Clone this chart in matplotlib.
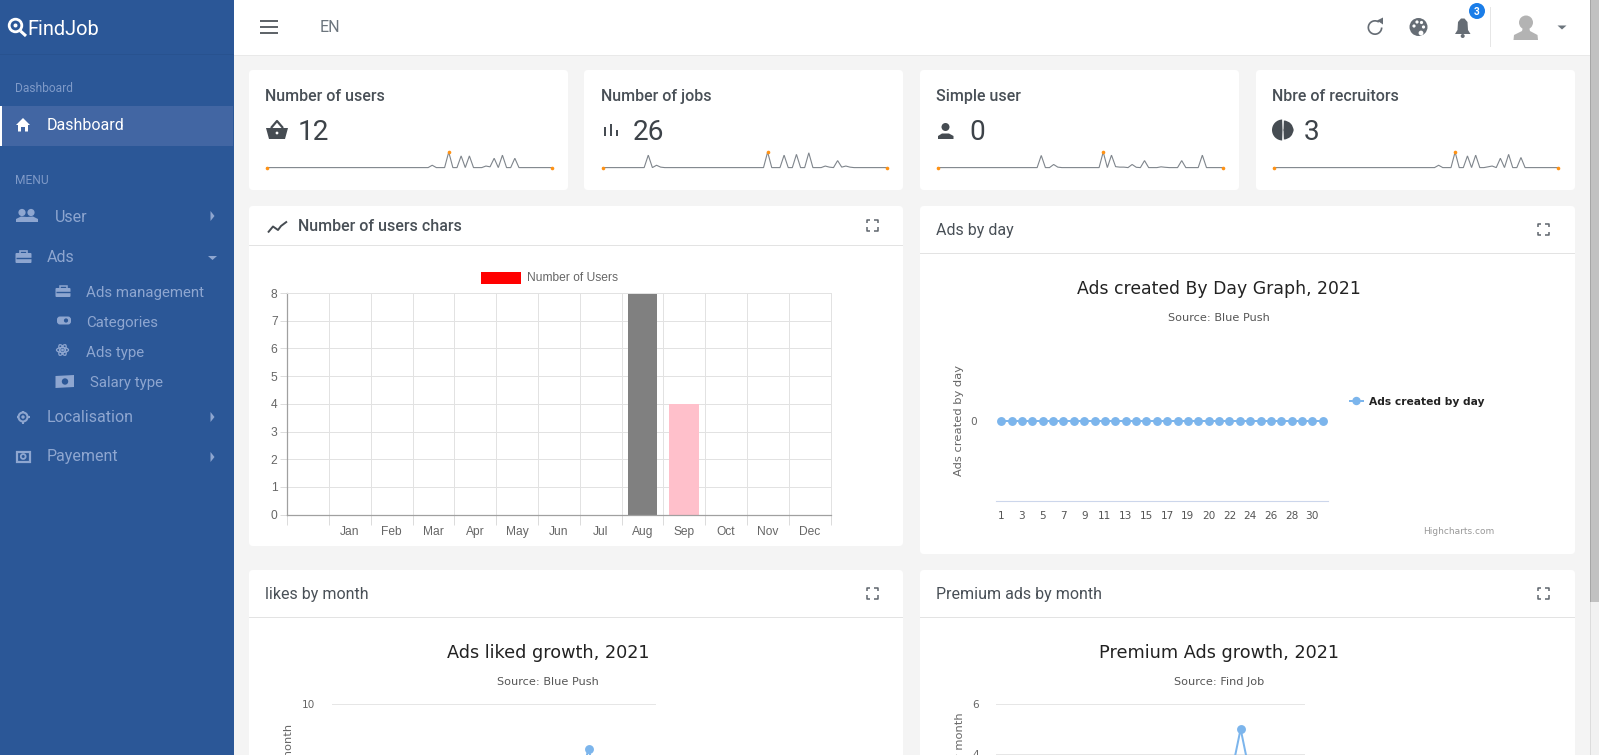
import matplotlib
matplotlib.use("Agg")
import matplotlib.pyplot as plt
from matplotlib.patches import Rectangle, FancyBboxPatch, Circle, Polygon, Wedge, Ellipse
from matplotlib.ticker import FixedLocator, NullFormatter

W, H = 1599, 755

# ---------- data ----------
month_labels = ['', 'Jan', 'Feb', 'Mar', 'Apr', 'May', 'Jun', 'Jul', 'Aug', 'Sep', 'Oct', 'Nov', 'Dec']
users_counts = [0, 0, 0, 0, 0, 0, 0, 0, 8, 4, 0, 0, 0]
users_colors = ['red'] * 8 + ['#808080', '#ffc0cb'] + ['red'] * 3

day_labels = ['1', '2', '3', '4', '5', '6', '7', '8', '9', '10', '11', '12', '13', '14', '15', '16',
              '17', '18', '19', '19', '20', '21', '22', '23', '24', '25', '26', '27', '28', '29', '30', '31']
ads_by_day = [0] * 32

liked_by_month = [0, 0, 0, 0, 0, 0, 0, 0, 0, 7, 0, 0]
premium_by_month = [0, 0, 0, 0, 0, 0, 0, 0, 0, 5, 0, 0]

spark_users = [0] * 40 + [1.5, 0, 0, 0, 10, 0, 0, 7.5, 0, 7.5, 0, 0, 0, 1, 0.5, 6, 0, 8, 0, 0, 6] + [0] * 9
spark_jobs = [0] * 11 + [8, 0, 1.5, 0.3] + [0] * 25 + [10, 0, 0, 0, 8, 0, 0, 8.5, 0, 0, 9.5, 0, 0, 0, 1, 0.3, 0, 4.5, 0.3, 1, 0.3] + [0] * 9
spark_simple = [0] * 25 + [7.8, 0, 0, 2, 0.3] + [0] * 10 + [10, 0, 8, 0.6, 0.3, 0.3, 0, 2, 0.2, 0, 4.5, 0, 0, 0, 0.5, 0.2, 0, 0, 0, 4.5, 0, 0, 0, 0, 8] + [0] * 5
spark_recruit = [0] * 40 + [1.5, 0, 0, 0, 10, 0, 0, 7.5, 0, 8, 0, 0, 0.5, 1, 0, 6, 0, 8.5, 0, 0, 6.5] + [0] * 9

card_titles = ['Number of users', 'Number of jobs', 'Simple user', 'Nbre of recruitors']
card_values = ['12', '26', '0', '3']

# ---------- helpers ----------
fig = plt.figure(figsize=(W / 100, H / 100), dpi=100, facecolor='#f4f4f4')
ov = fig.add_axes([0, 0, 1, 1], zorder=0)
ov.set_xlim(0, W)
ov.set_ylim(H, 0)
ov.axis('off')


def px_axes(x0, y0, x1, y1, zorder=2):
    ax = fig.add_axes([x0 / W, 1 - y1 / H, (x1 - x0) / W, (y1 - y0) / H], zorder=zorder)
    ax.patch.set_alpha(0)
    return ax


def T(x, y, s, size, color='#495057', ha='left', va='center_baseline', family='Roboto', **kw):
    return ov.text(x, y, s, fontsize=size * 0.72, color=color, ha=ha, va=va, family=family, **kw)


def R(x0, y0, x1, y1, color, z=1, **kw):
    ov.add_patch(Rectangle((x0, y0), x1 - x0, y1 - y0, fc=color, ec='none', zorder=z, **kw))


def card(x0, y0, x1, y1):
    for d, a in ((3, .015), (2, .02), (1, .03)):
        ov.add_patch(FancyBboxPatch((x0 - d + 4, y0 - d + 5), x1 - x0 + 2 * d - 8, y1 - y0 + 2 * d - 8,
                                    boxstyle='round,pad=0,rounding_size=4', mutation_aspect=1,
                                    fc='black', ec='none', alpha=a, zorder=1))
    ov.add_patch(FancyBboxPatch((x0 + 4, y0 + 4), x1 - x0 - 8, y1 - y0 - 8,
                                boxstyle='round,pad=4,rounding_size=4', fc='white', ec='none', zorder=1.2))


def L(xs, ys, color, lw=1.0, z=3, **kw):
    ov.plot(xs, ys, color=color, lw=lw, zorder=z, solid_capstyle=kw.pop('cap', 'butt'), **kw)


def P(pts, color, z=3):
    ov.add_patch(Polygon(pts, closed=True, fc=color, ec='none', zorder=z))


def C(x, y, r, color, z=3):
    ov.add_patch(Circle((x, y), r, fc=color, ec='none', zorder=z))


def expand_icon(cx, cy, c='#5f666d'):
    r, a = 5.5, 3.2
    for sx in (-1, 1):
        for sy in (-1, 1):
            L([cx + sx * (r - a), cx + sx * r, cx + sx * r], [cy + sy * r, cy + sy * r, cy + sy * (r - a)], c, lw=1.1)


# ---------- sidebar ----------
SB = '#2b5797'
MUTED = '#8ea6d0'
R(0, 0, 234, H, SB)
R(0, 54, 234, 55, '#28528f', z=1.1)
R(0, 106, 233, 146, '#4266a3', z=1.1)
R(0, 106, 2, 146, 'white', z=1.2)

ov.add_patch(Circle((15.5, 25.5), 6.3, fc='none', ec='white', lw=2.0, zorder=3))
C(15.5, 25.5, 2.0, 'white')
L([20.5, 26], [31, 36], 'white', lw=2.2)
T(27.5, 27.5, 'FindJob', 20, 'white')

T(15.5, 87.5, 'Dashboard', 12, '#7f9ac8')
P([(16, 125), (23, 118), (30, 125), (28, 125), (28, 131.5), (25, 131.5), (25, 127), (21, 127), (21, 131.5), (18, 131.5), (18, 125)], 'white')
T(47, 124.5, 'Dashboard', 16, 'white')
T(15.5, 179, 'MENU', 12, '#7f9ac8')

# user icon
C(22, 212.5, 3.6, MUTED); C(31, 212.5, 3.6, MUTED)
P([(16, 222), (16, 219), (21, 216.5), (27, 217), (33, 216.5), (38, 219), (38, 222)], MUTED)
T(55, 216.5, 'User', 16, MUTED)
P([(210.5, 211), (214.5, 216), (210.5, 221)], MUTED)
# ads icon
ov.add_patch(FancyBboxPatch((15.5, 253), 16, 10, boxstyle='round,pad=0,rounding_size=1', fc=MUTED, ec='none', zorder=3))
ov.add_patch(Rectangle((20, 250.5), 7, 3, fc='none', ec=MUTED, lw=1.2, zorder=3))
L([15.5, 31.5], [257.5, 257.5], SB, lw=1)
T(47, 256.5, 'Ads', 16, MUTED)
P([(208, 256), (217, 256), (212.5, 260)], MUTED)

# sub menu icons
ov.add_patch(FancyBboxPatch((55.5, 288), 15, 9, boxstyle='round,pad=0,rounding_size=1', fc=MUTED, ec='none', zorder=3))
ov.add_patch(Rectangle((59.5, 285.5), 7, 3, fc='none', ec=MUTED, lw=1.1, zorder=3))
L([55.5, 70.5], [292, 292], SB, lw=1)
T(86, 292, 'Ads management', 15, MUTED)
ov.add_patch(FancyBboxPatch((59, 318.5), 10, 4, boxstyle='round,pad=2,rounding_size=3', fc=MUTED, ec='none', zorder=3))
C(66, 320.5, 2.1, SB, z=3.2)
T(86, 322, 'Categories', 15, MUTED)
for ang in (0, 60, 120):
    ov.add_patch(Ellipse((62.5, 350), 12, 5, angle=ang, fc='none', ec=MUTED, lw=.9, zorder=3))
C(62.5, 350, 1.4, MUTED)
T(86, 352, 'Ads type', 15, MUTED)
P([(55.5, 376), (74, 375), (74, 387), (55.5, 388)], MUTED)
C(65, 381.5, 3.2, SB, z=3.2)
T(90, 382, 'Salary type', 15, MUTED)
# localisation icon
ov.add_patch(Circle((23, 417), 4.5, fc='none', ec=MUTED, lw=1.5, zorder=3))
C(23, 417, 1.7, MUTED)
for a, b, c_, d in ((16.5, 18.5, 417, 417), (27.5, 29.5, 417, 417), (23, 23, 410.5, 412.5), (23, 23, 421.5, 423.5)):
    L([a, b], [c_, d], MUTED, lw=1.5)
T(47, 416.5, 'Localisation', 16, MUTED)
P([(210.5, 412), (214.5, 417), (210.5, 422)], MUTED)
ov.add_patch(Rectangle((17, 451.5), 12.5, 10, fc='none', ec=MUTED, lw=1.6, zorder=3))
ov.add_patch(Circle((23.2, 456.5), 2.4, fc='none', ec=MUTED, lw=1.3, zorder=3))
T(47, 455.5, 'Payement', 16, MUTED)
P([(210.5, 452), (214.5, 457), (210.5, 462)], MUTED)

# ---------- top bar ----------
R(234, 0, 1590, 55, 'white', z=1.5)
R(234, 55, 1590, 56, '#e9e9e9', z=1.4)
for yy in (21.3, 27, 32.5):
    L([260, 278], [yy, yy], '#5c6166', lw=1.4)
T(320, 26.5, 'EN', 16, '#6c757d')
GR = '#666d75'
ov.add_patch(Wedge((1375, 27.5), 7.5, 0, 305, width=1.7, fc=GR, ec='none', zorder=3))
P([(1377, 20.5), (1383, 17.5), (1383, 24.5)], GR)
C(1418.5, 27, 9, GR)
for dx, dy in ((-4.5, -1), (-1.5, -5), (3, -4.5), (5, 0)):
    C(1418.5 + dx, 27 + dy, 1.6, 'white', z=3.2)
C(1421, 33, 2.4, 'white', z=3.2)
P([(1455, 34), (1457.5, 30), (1458, 22), (1461, 18.5), (1464.5, 18.5), (1467.5, 22), (1468, 30), (1470.5, 34)], GR)
C(1462.7, 36, 2, GR)
C(1477, 11, 8, '#1a7de8', z=3.5)
T(1477, 11.3, '3', 10, 'white', ha='center', weight='bold', zorder=3.6)
R(1490.4, 7, 1491.4, 47, '#e6e6e6', z=2)
C(1526, 22.5, 7, '#b3b3b3')
P([(1523, 27), (1529, 27), (1530, 31), (1537.5, 35), (1538, 40), (1513.5, 40), (1514, 35), (1522, 31)], '#b3b3b3')
P([(1557.5, 25.5), (1566.5, 25.5), (1562, 29.5)], '#6c757d')

# scrollbar
R(1590, 0, 1599, H, '#f1f1f1', z=2)
R(1590, 0, 1591, H, '#dcdcdc', z=2.1)
R(1591, 0, 1599, 602, '#c1c1c1', z=2.2)
R(1590, 0, 1591, 602, '#a6a6a6', z=2.2)

# ---------- stat cards ----------
card_boxes = [(249, 568), (584, 903), (920, 1239), (1256, 1575)]
text_x = [265, 601, 936, 1272]
val_x = [298, 633, 969, 1304]
spark_x = [(267, 552), (603, 887), (938, 1223), (1274, 1558)]
sparks = [spark_users, spark_jobs, spark_simple, spark_recruit]

for (x0, x1), tx, vx, title, val, (sx0, sx1), spark in zip(card_boxes, text_x, val_x, card_titles, card_values, spark_x, sparks):
    card(x0, 70, x1, 190)
    T(tx, 101, title, 16, '#495057', va='baseline', weight='medium')
    T(vx, 129, val, 28, '#3d4349')
    sa = px_axes(sx0, 150, sx1, 169)
    sa.axis('off')
    sa.set_xlim(0, len(spark) - 1)
    sa.set_ylim(-0.9, 11.3)
    sa.plot(range(len(spark)), spark, color='#7f858c', lw=0.8, solid_joinstyle='miter', clip_on=False)
    mx = max(range(len(spark)), key=lambda i: spark[i])
    sa.plot([0, mx, len(spark) - 1], [spark[0], spark[mx], spark[-1]], ls='none', marker='o', ms=2.6,
            color='#ff9214', mec='none', clip_on=False, zorder=4)

D = '#464c52'
# basket
P([(266, 128), (288, 128), (285, 139), (269, 139)], D)
L([271, 277, 283], [128, 121, 128], D, lw=1.6)
C(277, 133, 1.4, 'white', z=3.2)
# bars
for x_, top in ((603.5, 127), (609.5, 124), (615.5, 130)):
    R(x_, top, x_ + 2.8, 136, D, z=3)
# person
C(945.5, 127, 4, D)
P([(938, 139), (938, 136), (942, 133.5), (949, 133.5), (953.5, 136), (953.5, 139)], D)
# pie
ov.add_patch(Wedge((1282.5, 130), 10.5, 92, 268, fc=D, ec='none', zorder=3))
ov.add_patch(Wedge((1283.5, 129.5), 10, 0, 88, fc=D, ec='none', zorder=3))
ov.add_patch(Wedge((1283.5, 130.5), 10, 272, 360, fc=D, ec='none', zorder=3))

# ---------- chart cards ----------
card(249, 206, 903, 546)
card(920, 206, 1575, 554)
card(249, 570, 903, 800)
card(920, 570, 1575, 800)
LN = '#e3e3e3'
R(249, 245, 903, 246, LN, z=1.3)
R(920, 253, 1575, 254, LN, z=1.3)
R(249, 617, 903, 618, LN, z=1.3)
R(920, 617, 1575, 618, LN, z=1.3)

L([268, 273, 278, 281, 287], [232.5, 226.5, 230, 226, 221.5], D, lw=1.4)
T(297.5, 231, 'Number of users chars', 16, '#495057', va='baseline', weight='medium')
T(936, 235, 'Ads by day', 16, va='baseline')
T(265, 599, 'likes by month', 16, va='baseline')
T(936, 599, 'Premium ads by month', 16, va='baseline')
expand_icon(872, 225)
expand_icon(1543, 229.5)
expand_icon(872, 593)
expand_icon(1543, 593)

# ---------- bar chart ----------
ax = px_axes(287.3, 293, 830.5, 514.7)
n = len(month_labels)
ax.bar(range(n), users_counts, width=0.71, color=users_colors, zorder=2)
ax.set_xlim(-0.5, n - 0.5)
ax.set_ylim(0, 8)
ax.xaxis.set_major_locator(FixedLocator([i - 0.5 for i in range(n + 1)]))
ax.xaxis.set_major_formatter(NullFormatter())
ax.xaxis.set_minor_locator(FixedLocator(range(n)))
ax.set_xticklabels(month_labels, minor=True, fontsize=12 * .72, family='Liberation Sans', color='#666666')
ax.tick_params(axis='x', which='major', length=7.2, width=.72, color='#dcdcdc')
ax.tick_params(axis='x', which='minor', length=0, pad=8)
ax.set_yticks(range(9))
ax.tick_params(axis='y', length=5, width=.72, color='#dcdcdc', labelsize=12 * .72, labelcolor='#666666', pad=2)
for lab in ax.get_yticklabels():
    lab.set_family('Liberation Sans')
ax.grid(True, which='major', color='#e2e2e2', lw=.72, zorder=0)
ax.set_axisbelow(True)
for s in ('top', 'right'):
    ax.spines[s].set_color('#e2e2e2')
    ax.spines[s].set_linewidth(.72)
for s in ('left', 'bottom'):
    ax.spines[s].set_color('#a0a0a0')
    ax.spines[s].set_linewidth(.9)
R(480.5, 272, 521, 284, 'red', z=3)
T(527, 276.5, 'Number of Users', 12, '#666666', family='Liberation Sans')

# ---------- highcharts style ----------
HC = '#7cb5ec'
HF = 'DejaVu Sans'
T(1219, 287.5, 'Ads created By Day Graph, 2021', 17.2, '#222222', ha='center', family=HF)
T(1219, 317, 'Source: Blue Push', 11.3, '#555555', ha='center', family=HF)

ax = px_axes(996, 341.3, 1328, 500.7)
ax.plot(range(len(ads_by_day)), ads_by_day, color=HC, lw=1.44, marker='o', ms=6.4, mec='none')
ax.set_xlim(-0.5, len(ads_by_day) - 0.5)
ax.set_ylim(-1, 1)
ax.set_yticks([0])
ax.set_xticks(range(0, len(day_labels), 2))
ax.set_xticklabels(day_labels[::2], fontsize=10.5 * .72, family=HF, color='#555555')
ax.tick_params(axis='x', length=0, pad=7.7)
ax.tick_params(axis='y', length=0, labelsize=10.5 * .72, labelcolor='#666666', pad=14)
for lab in ax.get_yticklabels():
    lab.set_family(HF)
for s in ('top', 'left', 'right'):
    ax.spines[s].set_visible(False)
ax.spines['bottom'].set_color('#ccd6eb')
T(958.5, 421, 'Ads created by day', 11.5, '#666666', ha='center', va='center', family=HF, rotation=90)
L([1349, 1364], [401, 401], HC, lw=1.44)
C(1356.5, 401, 4.2, HC)
T(1369, 401, 'Ads created by day', 10.6, '#222222', family=HF, weight='bold')
T(1494, 530.5, 'Highcharts.com', 9, '#999999', ha='right', family=HF)


def month_chart(x0, x1, values, y_range, shown_ticks, title, source, tcx, ylab, ylab_x):
    T(tcx, 650.5, title, 17.6, '#222222', ha='center', family=HF)
    T(tcx, 681, source, 11.3, '#555555', ha='center', family=HF)
    a = px_axes(x0, 704, x1, 854)
    a.plot(range(12), values, color=HC, lw=1.44, marker='o', ms=6.4, mec='none', clip_on=False)
    a.set_xlim(-0.5, 11.5)
    a.set_ylim(*y_range)
    a.set_yticks(shown_ticks)
    a.set_xticks([])
    a.grid(True, axis='y', color='#e6e6e6', lw=.72)
    a.set_axisbelow(True)
    a.tick_params(axis='both', length=0)
    a.tick_params(axis='y', labelsize=10.5 * .72, labelcolor='#666666', pad=12)
    for lab in a.get_yticklabels():
        lab.set_family(HF)
    for s in a.spines.values():
        s.set_visible(False)
    T(ylab_x, 779, ylab, 11.5, '#666666', ha='center', va='center', family=HF, rotation=90)


month_chart(332, 656, liked_by_month, (0, 10), [10], 'Ads liked growth, 2021', 'Source: Blue Push', 548,
            'Ads liked by month', 288.5)
month_chart(996, 1305, premium_by_month, (0, 6), [4, 6], 'Premium Ads growth, 2021', 'Source: Find Job', 1219,
            'Premium ads by month', 960)

fig.savefig('out.png', dpi=100, facecolor=fig.get_facecolor())
